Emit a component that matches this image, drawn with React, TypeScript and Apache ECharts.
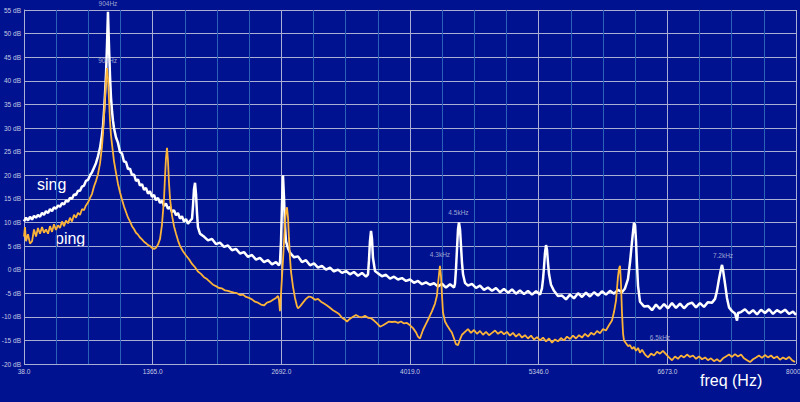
import React, { useEffect, useRef } from "react";
import * as echarts from "echarts";

// frequency axis: first tick and step (Hz)
const freqStart = 38;
const freqEnd = 8000;
const freqStep = 1327;
const dbMin = -20;
const dbMax = 55;
const dbStep = 5;

// "sing" spectrum: [frequency Hz, level dB]
const singData: number[][] = [
  [38, 10.2], [59, 11.0], [79, 10.4], [100, 11.2], [121, 10.6], [141, 11.4], [162, 11.0], [182, 11.6],
  [203, 11.2], [224, 12.0], [244, 11.6], [265, 12.4], [286, 12.0], [306, 12.8], [327, 12.4], [347, 13.2],
  [368, 12.9], [389, 13.6], [409, 13.3], [430, 14.1], [451, 13.8], [471, 14.6], [492, 14.4], [512, 15.2],
  [533, 15.0], [554, 15.9], [574, 15.8], [595, 16.7], [616, 16.7], [636, 17.6], [657, 17.8], [677, 18.8],
  [698, 19.0], [719, 20.0], [739, 20.6], [760, 21.6], [781, 22.6], [801, 24.0], [822, 25.8], [842, 28.5],
  [853, 30.5], [863, 33.5], [873, 37.0], [884, 41.5], [894, 47.5], [904, 54.6], [915, 47.0], [925, 41.0],
  [935, 36.5], [946, 33.5], [956, 31.5], [966, 30.0], [987, 28.0], [1007, 26.9], [1028, 24.9], [1049, 24.6],
  [1069, 22.9], [1090, 22.8], [1111, 21.3], [1131, 21.4], [1152, 20.0], [1172, 20.2], [1193, 18.8], [1214, 19.1],
  [1234, 17.8], [1255, 18.1], [1276, 16.9], [1296, 17.3], [1317, 16.1], [1337, 16.6], [1358, 15.4], [1379, 15.8],
  [1399, 14.7], [1420, 15.2], [1441, 14.1], [1461, 14.6], [1482, 13.5], [1502, 14.0], [1523, 12.9], [1544, 13.3],
  [1564, 12.2], [1585, 12.6], [1606, 11.5], [1626, 12.0], [1647, 10.8], [1667, 11.3], [1688, 10.2], [1709, 10.7],
  [1729, 9.7], [1750, 10.3], [1771, 10.8], [1781, 13.5], [1791, 17.0], [1802, 18.4], [1812, 16.0], [1822, 12.0],
  [1832, 9.0], [1853, 7.6], [1874, 7.3], [1894, 7.0], [1936, 6.2], [1977, 6.5], [2018, 5.4], [2059, 5.7],
  [2101, 4.8], [2142, 5.1], [2183, 4.1], [2224, 4.4], [2266, 3.4], [2307, 3.7], [2348, 2.7], [2389, 3.1],
  [2431, 2.1], [2472, 2.5], [2513, 1.6], [2554, 2.0], [2596, 1.1], [2637, 1.6], [2668, 0.9], [2678, 1.5],
  [2689, 6.0], [2699, 14.0], [2709, 20.0], [2720, 15.0], [2730, 9.0], [2740, 6.0], [2761, 4.5], [2781, 3.6],
  [2823, 2.6], [2864, 2.8], [2905, 1.6], [2946, 2.0], [2988, 0.9], [3029, 1.3], [3070, 0.4], [3111, 0.8],
  [3153, 0.0], [3194, 0.4], [3235, -0.4], [3276, 0.0], [3318, -0.7], [3359, -0.3], [3400, -1.0], [3441, -0.5],
  [3483, -1.3], [3524, -0.7], [3565, -1.5], [3586, -1.0], [3596, 2.0], [3606, 6.0], [3617, 8.2], [3627, 6.5],
  [3637, 2.5], [3658, -0.3], [3689, -0.8], [3730, -1.4], [3771, -1.1], [3813, -1.9], [3854, -1.5], [3895, -2.1],
  [3936, -1.8], [3978, -2.4], [4019, -2.1], [4060, -2.8], [4101, -2.4], [4143, -3.1], [4184, -2.7], [4225, -3.2],
  [4267, -2.9], [4308, -3.6], [4349, -3.0], [4390, -3.8], [4432, -3.1], [4473, -3.8], [4483, -3.0], [4493, 0.0],
  [4504, 4.5], [4514, 8.5], [4524, 10.0], [4535, 8.5], [4545, 5.0], [4555, 1.5], [4566, -1.0], [4586, -2.8],
  [4617, -3.4], [4658, -3.0], [4700, -3.9], [4741, -3.4], [4782, -4.3], [4823, -3.8], [4865, -4.5], [4906, -3.9],
  [4947, -4.8], [4988, -4.1], [5030, -4.9], [5071, -4.2], [5112, -5.1], [5153, -4.4], [5195, -5.2], [5236, -4.5],
  [5277, -5.3], [5319, -4.6], [5360, -5.3], [5380, -4.0], [5391, -2.0], [5401, 0.5], [5411, 3.5], [5422, 5.2],
  [5432, 4.2], [5442, 1.5], [5453, -1.0], [5473, -3.2], [5504, -4.5], [5545, -5.6], [5587, -5.5], [5628, -6.3],
  [5669, -5.3], [5710, -6.1], [5752, -5.0], [5793, -5.8], [5834, -4.9], [5875, -5.7], [5917, -4.8], [5958, -5.5],
  [5999, -4.6], [6040, -5.3], [6082, -4.5], [6123, -5.1], [6164, -4.3], [6205, -4.8], [6236, -4.0], [6267, -2.0],
  [6288, 1.5], [6309, 6.0], [6329, 9.9], [6340, 9.5], [6350, 6.0], [6360, 1.0], [6371, -3.5], [6391, -6.8],
  [6432, -7.8], [6474, -7.7], [6515, -8.6], [6556, -7.4], [6597, -8.3], [6639, -7.3], [6680, -8.2], [6721, -7.1],
  [6762, -8.1], [6804, -7.2], [6845, -8.2], [6886, -7.3], [6927, -7.0], [6969, -8.0], [7010, -7.1], [7051, -7.9],
  [7092, -6.9], [7134, -7.0], [7165, -6.2], [7185, -4.5], [7206, -2.0], [7227, 0.2], [7237, 1.0], [7247, 0.0],
  [7268, -3.0], [7288, -6.0], [7309, -8.0], [7340, -8.8], [7371, -9.3], [7392, -10.8], [7402, -9.2], [7433, -9.0],
  [7474, -8.4], [7515, -9.3], [7557, -8.6], [7598, -9.5], [7639, -8.5], [7680, -9.2], [7722, -8.4], [7763, -9.4],
  [7804, -8.6], [7845, -9.1], [7887, -8.5], [7928, -9.4], [7969, -8.9], [8000, -9.6],
];

// "ping" spectrum: [frequency Hz, level dB]
const pingData: number[][] = [
  [38, 7.0], [48, 9.0], [59, 6.0], [79, 7.5], [100, 5.5], [121, 6.0], [141, 8.5], [162, 7.0],
  [182, 8.8], [203, 7.6], [224, 9.0], [244, 7.8], [265, 8.5], [286, 7.6], [306, 9.2], [327, 8.0],
  [347, 9.6], [368, 8.4], [389, 9.4], [409, 8.8], [430, 10.2], [451, 9.2], [471, 10.4], [492, 9.8],
  [512, 11.0], [533, 10.2], [554, 11.6], [574, 11.0], [595, 12.0], [616, 11.6], [636, 12.8], [657, 12.6],
  [677, 13.6], [698, 14.2], [719, 15.2], [739, 16.0], [760, 17.6], [781, 18.8], [801, 20.2], [822, 22.5],
  [842, 26.0], [853, 29.0], [863, 32.5], [873, 36.5], [884, 40.0], [894, 42.7], [904, 40.5], [915, 36.0],
  [925, 31.5], [935, 28.5], [946, 26.5], [966, 23.0], [987, 20.5], [1007, 18.2], [1028, 16.4], [1049, 14.8],
  [1069, 13.4], [1090, 12.2], [1111, 11.0], [1131, 10.2], [1152, 9.2], [1172, 8.6], [1193, 7.8], [1214, 7.4],
  [1234, 6.8], [1255, 6.4], [1276, 5.9], [1296, 5.6], [1317, 5.2], [1337, 5.0], [1358, 4.6], [1379, 4.4],
  [1399, 4.6], [1420, 5.3], [1441, 6.5], [1461, 9.5], [1482, 15.0], [1492, 19.5], [1502, 23.5], [1513, 25.8],
  [1523, 23.0], [1533, 18.5], [1544, 15.0], [1564, 11.5], [1585, 9.2], [1606, 7.6], [1626, 6.2], [1647, 5.0],
  [1678, 3.9], [1709, 3.0], [1740, 2.2], [1771, 1.2], [1802, 0.5], [1832, -0.4], [1863, -0.9], [1894, -1.6],
  [1925, -2.0], [1956, -2.6], [1987, -3.2], [2018, -3.5], [2049, -3.9], [2080, -4.0], [2111, -4.4], [2142, -4.5],
  [2173, -4.7], [2204, -4.9], [2235, -5.0], [2266, -5.4], [2297, -5.3], [2328, -5.8], [2359, -6.0], [2389, -6.3],
  [2420, -6.8], [2451, -7.0], [2482, -7.4], [2513, -7.6], [2544, -7.0], [2575, -6.8], [2606, -6.4], [2637, -6.0],
  [2658, -5.6], [2668, -6.5], [2678, -8.8], [2689, -5.0], [2699, -1.5], [2709, 2.0], [2720, 6.0], [2730, 10.0],
  [2740, 12.5], [2750, 13.2], [2761, 11.0], [2771, 6.5], [2781, 2.5], [2792, -0.5], [2812, -3.6], [2833, -6.0],
  [2854, -7.8], [2864, -8.2], [2885, -7.8], [2915, -7.0], [2946, -6.2], [2977, -5.7], [3008, -5.9], [3039, -6.4],
  [3070, -6.2], [3101, -6.8], [3132, -7.2], [3163, -7.6], [3194, -8.1], [3225, -8.6], [3256, -9.0], [3287, -9.4],
  [3318, -10.2], [3349, -10.6], [3369, -11.0], [3400, -10.4], [3431, -10.0], [3462, -9.6], [3493, -10.0], [3524, -10.1],
  [3555, -9.8], [3586, -10.2], [3617, -10.3], [3648, -10.8], [3679, -11.4], [3710, -12.1], [3741, -11.8], [3771, -11.4],
  [3802, -11.0], [3833, -11.1], [3864, -11.0], [3895, -11.3], [3926, -11.0], [3957, -11.4], [3988, -11.3], [4019, -11.8],
  [4050, -12.4], [4081, -13.3], [4101, -14.2], [4122, -14.6], [4153, -12.8], [4184, -11.5], [4215, -10.2], [4246, -8.8],
  [4277, -7.2], [4297, -5.5], [4308, -3.0], [4318, -1.0], [4328, 0.8], [4339, -1.5], [4349, -5.5], [4359, -9.0],
  [4380, -11.0], [4401, -11.8], [4432, -12.8], [4452, -13.4], [4473, -14.6], [4493, -15.8], [4514, -16.0], [4535, -14.8],
  [4555, -13.8], [4586, -13.2], [4617, -12.6], [4648, -13.4], [4679, -12.8], [4710, -13.6], [4741, -13.0], [4772, -13.8],
  [4803, -13.2], [4834, -13.9], [4865, -13.4], [4896, -12.9], [4927, -13.6], [4958, -13.1], [4988, -13.7], [5019, -13.2],
  [5050, -14.0], [5081, -13.4], [5112, -14.2], [5143, -13.6], [5174, -14.4], [5205, -13.9], [5236, -14.6], [5267, -14.0],
  [5298, -14.8], [5329, -14.3], [5360, -15.0], [5391, -14.4], [5422, -15.2], [5453, -14.6], [5484, -15.5], [5514, -14.8],
  [5545, -15.2], [5576, -14.5], [5607, -15.0], [5638, -14.2], [5669, -14.7], [5700, -14.0], [5731, -14.6], [5762, -13.9],
  [5793, -14.4], [5824, -13.6], [5855, -14.2], [5886, -13.4], [5917, -13.8], [5948, -13.0], [5979, -13.5], [6010, -12.6],
  [6040, -12.9], [6071, -11.8], [6102, -10.8], [6123, -9.0], [6144, -6.5], [6154, -4.0], [6164, -1.5], [6175, 0.2],
  [6185, 0.8], [6195, -3.0], [6205, -9.0], [6216, -13.5], [6226, -15.0], [6247, -15.6], [6267, -16.2], [6288, -16.0],
  [6309, -16.8], [6329, -16.4], [6350, -17.2], [6371, -16.6], [6391, -17.6], [6412, -17.0], [6443, -18.0], [6474, -18.6],
  [6505, -17.8], [6536, -18.2], [6566, -17.4], [6597, -17.8], [6628, -17.2], [6659, -17.9], [6690, -18.6], [6721, -19.2],
  [6752, -18.4], [6783, -18.9], [6814, -18.2], [6845, -18.6], [6876, -18.0], [6907, -18.5], [6938, -18.2], [6969, -18.9],
  [7000, -18.4], [7031, -19.0], [7062, -18.6], [7092, -19.2], [7123, -18.8], [7154, -19.4], [7185, -19.0], [7216, -19.5],
  [7247, -18.8], [7278, -18.4], [7309, -18.0], [7340, -18.5], [7371, -17.9], [7402, -18.4], [7433, -18.0], [7464, -18.8],
  [7495, -19.2], [7526, -19.6], [7557, -19.0], [7588, -18.6], [7618, -18.2], [7649, -18.7], [7680, -18.1], [7711, -18.6],
  [7742, -18.2], [7773, -18.8], [7804, -18.4], [7835, -19.1], [7866, -18.6], [7897, -19.0], [7928, -18.5], [7959, -19.2],
  [7990, -19.6],
];

// peak annotations: [frequency Hz, level dB, text]
const peakLabels: [number, number, string][] = [
  [904, 56.3, "904Hz"],
  [900, 44.2, "900Hz"],
  [4328, 3.2, "4.3kHz"],
  [4519, 12.1, "4.5kHz"],
  [6597, -14.4, "6.5kHz"],
  [7247, 3.0, "7.2kHz"],
];

const BG = "#00128f";
const GRID_MAJOR = "#a9afd2";
const GRID_MINOR = "#2a62b8";
const LABEL = "#c6cbe4";
const FONT = '"Liberation Sans", Arial, sans-serif';
const SMALL = 6.5;

const shift = (d: number[][]) => d.map(([f, v]) => [f - freqStart, v]);

export default function App() {
  const ref = useRef<HTMLDivElement>(null);
  useEffect(() => {
    if (!ref.current) return;
    const chart = echarts.init(ref.current, undefined, { renderer: "svg" });
    chart.setOption({
      animation: false,
      backgroundColor: BG,
      grid: { left: 24, right: 4, top: 10, bottom: 38, containLabel: false, outerBoundsMode: "none" },
      xAxis: {
        type: "value",
        min: 0,
        max: freqEnd - freqStart,
        interval: freqStep,
        axisLine: { show: true, lineStyle: { color: GRID_MAJOR, width: 1 } },
        axisTick: { show: false },
        axisLabel: {
          color: LABEL,
          fontSize: SMALL,
          fontFamily: FONT,
          margin: 4,
          formatter: (v: number) => (v + freqStart).toFixed(1),
        },
        splitLine: { show: true, lineStyle: { color: GRID_MAJOR, width: 1 } },
        minorTick: { show: false, splitNumber: 4 },
        minorSplitLine: { show: true, lineStyle: { color: GRID_MINOR, width: 1 } },
      },
      yAxis: {
        type: "value",
        min: dbMin,
        max: dbMax,
        interval: dbStep,
        axisLine: { show: true, lineStyle: { color: GRID_MAJOR, width: 1 } },
        axisTick: { show: false },
        axisLabel: {
          color: LABEL,
          fontSize: SMALL,
          fontFamily: FONT,
          margin: 3,
          formatter: (v: number) => `${v} dB`,
        },
        splitLine: { show: true, lineStyle: { color: GRID_MAJOR, width: 1 } },
      },
      series: [
        {
          name: "sing",
          type: "line",
          data: shift(singData),
          symbol: "none",
          lineStyle: { color: "#ffffff", width: 2.5 },
          z: 2,
        },
        {
          name: "ping",
          type: "line",
          data: shift(pingData),
          symbol: "none",
          lineStyle: { color: "#fbb33a", width: 1.8 },
          z: 3,
        },
        {
          name: "peaks",
          type: "scatter",
          clip: false,
          symbolSize: 1,
          itemStyle: { color: "rgba(0,0,0,0)" },
          data: peakLabels.map(([f, v, t]) => ({ value: [f - freqStart, v], name: t })),
          label: {
            show: true,
            position: "inside",
            formatter: (p: any) => p.name,
            color: LABEL,
            fontSize: SMALL,
            fontFamily: FONT,
          },
          z: 4,
        },
      ],
      graphic: [
        {
          type: "text",
          x: 37,
          y: 184,
          style: {
            text: "sing",
            fill: "#ffffff",
            font: `16px ${FONT}`,
            verticalAlign: "middle",
            textVerticalAlign: "middle",
          },
        },
        {
          type: "text",
          x: 55,
          y: 238,
          style: {
            text: "ping",
            fill: "#ffffff",
            font: `16px ${FONT}`,
            verticalAlign: "middle",
            textVerticalAlign: "middle",
          },
        },
        {
          type: "text",
          x: 700,
          y: 380,
          style: {
            text: "freq (Hz)",
            fill: "#ffffff",
            font: `16px ${FONT}`,
            verticalAlign: "middle",
            textVerticalAlign: "middle",
          },
        },
      ],
    });
    return () => chart.dispose();
  }, []);
  return (
    <div
      ref={ref}
      style={{ position: "fixed", left: 0, top: 0, width: 800, height: 402, background: BG }}
    />
  );
}
